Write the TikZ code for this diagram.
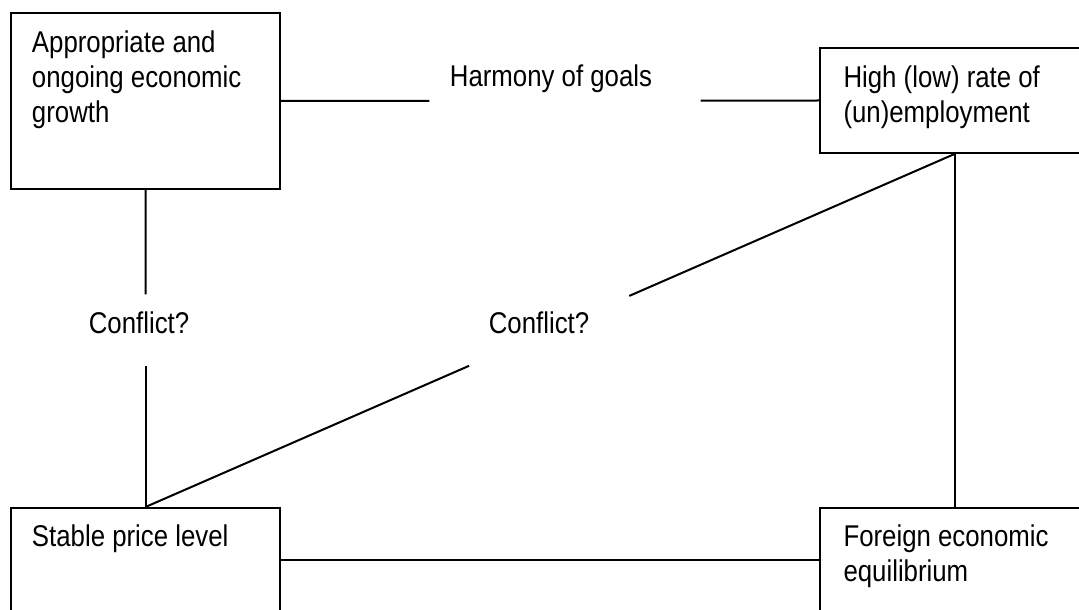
\documentclass[tikz,border=0pt]{standalone}
\usepackage{fontspec}
\setmainfont{Liberation Sans}[FakeStretch=0.86]
\usetikzlibrary{calc}
\begin{document}
\begin{tikzpicture}[x=0.5pt, y=-0.5pt, line width=1pt,
  font=\fontsize{15pt}{17.5pt}\selectfont,
  goalbox/.style={draw, anchor=north west, align=flush left, inner ysep=0pt,
    inner xsep=10.5pt, text width=113.5pt, minimum width=134.5pt}]
\useasboundingbox (0,0) rectangle (1079,609);
\clip (0,0) rectangle (1079,609);

% the four goals
\node[goalbox, text height=20pt, text depth=68pt] (growth) at (10,12)
  {Appropriate and\\ongoing economic\\growth};
\node[goalbox, text height=20pt, text depth=32.5pt, inner xsep=11.5pt, text width=111pt] (employ) at (819,47)
  {High (low) rate of\\(un)employment};
\node[goalbox, text height=19pt, text depth=33pt] (price) at (10,507)
  {Stable price level};
\node[goalbox, text height=19pt, text depth=33pt, inner xsep=11.5pt, text width=111pt] (foreign) at (819,507)
  {Foreign economic\\equilibrium};

% labels on the links
\node[anchor=base] (harmony) at (551,87) {Harmony of goals};
\node[anchor=base] (conflictL) at (139,333) {Conflict?};
\node[anchor=base] (conflictM) at (539,333) {Conflict?};

% gaps in the links
\coordinate (harmonyL) at ($(growth.east)!0.276!(employ.west)$);
\coordinate (harmonyR) at ($(growth.east)!0.78!(employ.west)$);
\coordinate (leftU) at ($(growth.south)!0.329!(price.north)$);
\coordinate (leftD) at ($(growth.south)!0.555!(price.north)$);
\coordinate (diagD) at ($(price.north)!0.4!(employ.south)$);
\coordinate (diagU) at ($(price.north)!0.598!(employ.south)$);

\draw (growth.east) -- (harmonyL);
\draw (harmonyR) -- (employ.west);
\draw (growth.south) -- (leftU);
\draw (leftD) -- (price.north);
\draw (price.north) -- (diagD);
\draw (diagU) -- (employ.south);
\draw (employ.south) -- (foreign.north);
\draw (price.east) -- (foreign.west);

\end{tikzpicture}
\end{document}
